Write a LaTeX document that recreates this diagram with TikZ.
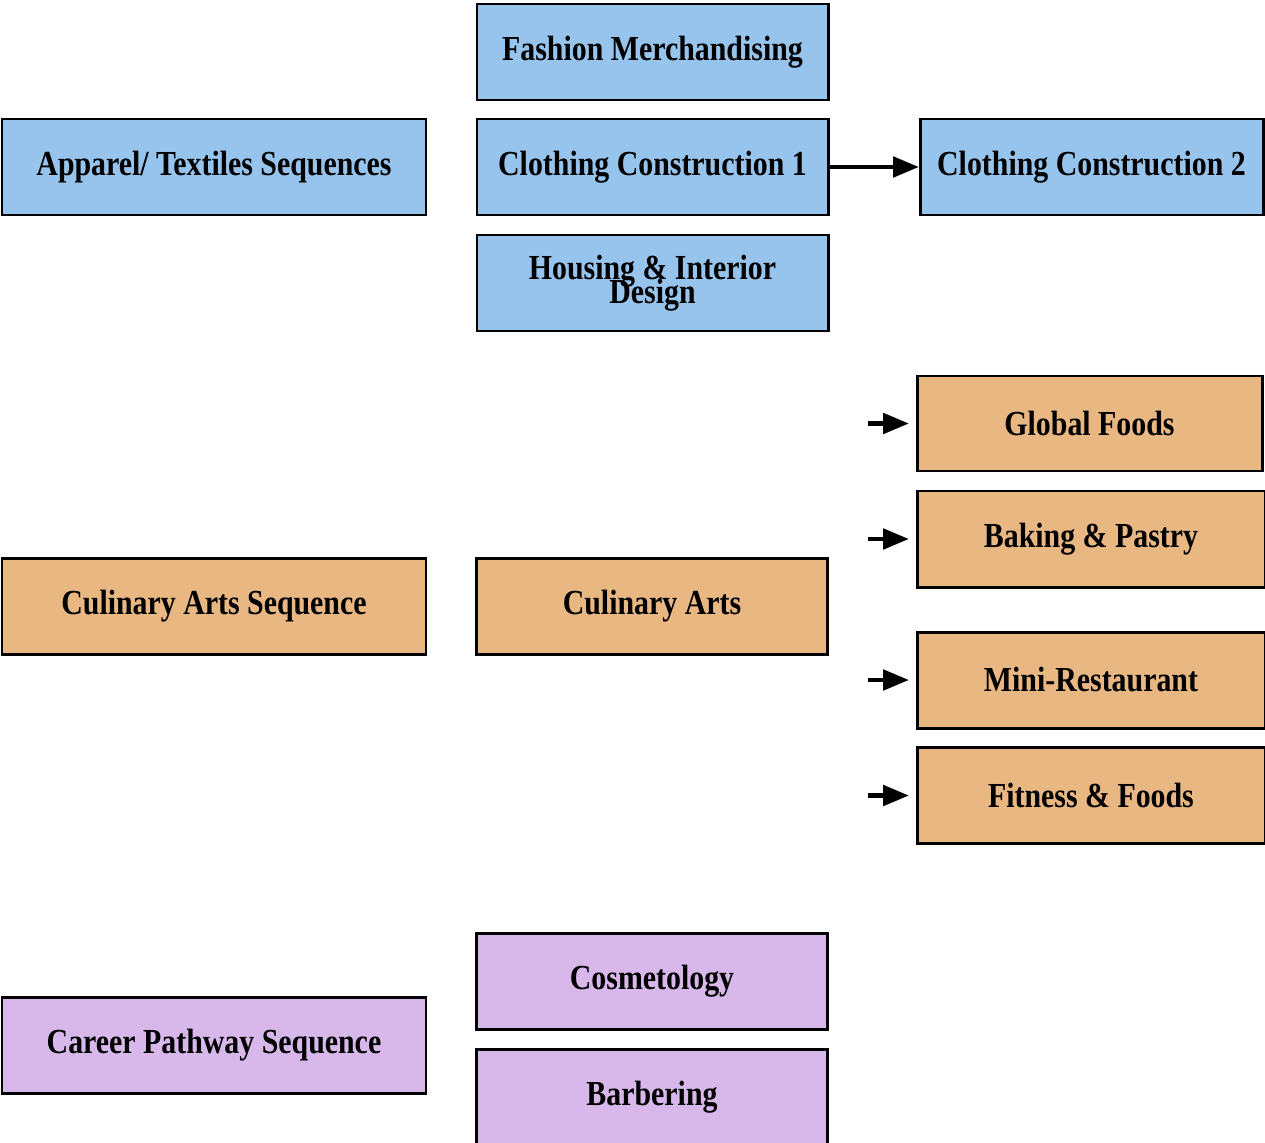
\documentclass[tikz,border=0pt]{standalone}
\usepackage{fontspec}
\setmainfont[FakeStretch=0.85]{Liberation Serif}
\usetikzlibrary{arrows}

\definecolor{boxblue}{RGB}{151,196,236}
\definecolor{boxorange}{RGB}{232,183,130}
\definecolor{boxpurple}{RGB}{216,184,234}

\begin{document}
\begin{tikzpicture}[x=0.02cm,y=-0.02cm,
  course/.style={draw,line width=1.7pt,minimum height=96*0.02cm,inner sep=0pt,
    align=center,font={\fontsize{20}{14}\selectfont\setlength{\lineskiplimit}{-20pt}\bfseries}},
  wide/.style={course,minimum width=424*0.02cm},
  mid/.style={course,minimum width=351*0.02cm},
  side/.style={course,minimum width=348*0.02cm},
  link/.style={->,>=triangle 45,line width=2.4pt}]
\useasboundingbox (0,0) rectangle (1265,1143);
\clip (0,0) rectangle (1265,1143);
% apparel / textiles
\node[wide,fill=boxblue] (apparel) at (214,167) {Apparel/ Textiles Sequences};
\node[mid,fill=boxblue] (fashion) at (652.5,52) {Fashion Merchandising};
\node[mid,fill=boxblue] (clothA) at (652.5,167) {Clothing Construction 1};
\node[mid,fill=boxblue] (housing) at (652.5,283) {Housing \& Interior\\Design};
\node[course,minimum width=343*0.02cm,fill=boxblue] (clothB) at (1091.5,167) {Clothing Construction 2};
\draw[link] (clothA) -- (clothB);
% culinary
\node[wide,fill=boxorange] (culseq) at (214,606) {Culinary Arts Sequence};
\node[mid,fill=boxorange] (culinary) at (652,606) {Culinary Arts};
\node[course,minimum width=345*0.02cm,minimum height=95*0.02cm,fill=boxorange] (global) at (1089.5,423.5) {Global Foods};
\node[side,fill=boxorange] (baking) at (1091,539) {Baking \& Pastry};
\node[side,fill=boxorange] (mini) at (1091,680) {Mini-Restaurant};
\node[side,fill=boxorange] (fitness) at (1091,795.5) {Fitness \& Foods};
\coordinate (gA) at (868,423.5);
\coordinate (bA) at (868,539);
\coordinate (mA) at (868,680);
\coordinate (fA) at (868,795.5);
\draw[link,shorten >=0.14cm] (gA) -- (global.west);
\draw[link,shorten >=0.14cm] (bA) -- (baking.west);
\draw[link,shorten >=0.14cm] (mA) -- (mini.west);
\draw[link,shorten >=0.14cm] (fA) -- (fitness.west);
% career pathway
\node[wide,fill=boxpurple] (career) at (214,1045) {Career Pathway Sequence};
\node[mid,fill=boxpurple] (cosmet) at (652,981) {Cosmetology};
\node[mid,fill=boxpurple] (barber) at (652,1097) {Barbering};
\end{tikzpicture}
\end{document}
